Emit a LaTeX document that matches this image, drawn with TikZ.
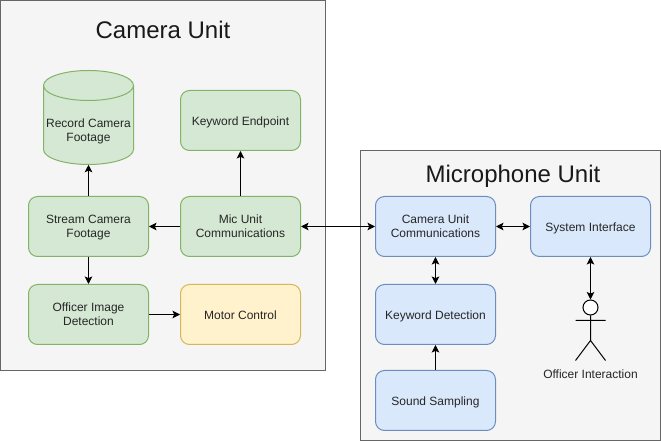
\documentclass[tikz,border=0pt]{standalone}
\usepackage{fontspec}
\setmainfont{Liberation Sans}
\usetikzlibrary{arrows.meta}
\begin{document}
\begin{tikzpicture}[x=0.75pt,y=-0.75pt,>={Stealth[length=5.6pt,width=5.6pt,inset=1.2pt]}]
  \definecolor{cam_line}{HTML}{82B366}
  \definecolor{cam_fill}{HTML}{D5E8D4}
  \definecolor{mic_line}{HTML}{6C8EBF}
  \definecolor{mic_fill}{HTML}{DAE8FC}
  \definecolor{motor_line}{HTML}{D6B656}
  \definecolor{motor_fill}{HTML}{FFF2CC}
  \tikzstyle{unit_box}   = [shape = rectangle, draw = black!60, fill = black!4, line width=0.75pt, inner sep=0pt]
  \tikzstyle{unit_name}  = [font=\fontsize{18}{21}\selectfont, text=black!90]
  \tikzstyle{box_text}   = [align=center, inner sep=0pt, font=\fontsize{9}{10.5}\selectfont, text=black!85,
                            execute at begin node={\rule{0pt}{9pt}}, execute at end node={\rule[-2.2pt]{0pt}{0pt}}]
  \tikzstyle{two_lines}  = [execute at begin node={\rule{0pt}{18pt}}]
  \tikzstyle{box}        = [shape = rectangle, box_text, rounded corners=6.75pt, line width=0.75pt, minimum width=90pt, minimum height=45pt]
  \tikzstyle{cam_node}   = [box, draw = cam_line, fill = cam_fill]
  \tikzstyle{mic_node}   = [box, draw = mic_line, fill = mic_fill]
  \tikzstyle{motor_node} = [box, draw = motor_line, fill = motor_fill]
  \tikzstyle{cyl_line}   = [draw = cam_line, fill = cam_fill, line width=0.75pt]

  \useasboundingbox (0,0) rectangle (661,441);

  \node[unit_box, minimum width=243.75pt, minimum height=277.5pt] at (163,185.5) (cam_unit) {};
  \node[unit_name] at (163,30) (cam_title) {Camera Unit};

  \node[unit_box, minimum width=225pt, minimum height=217.5pt] at (510.5,295.5) (mic_unit) {};
  \node[unit_name] at (513,176) (mic_title) {Microphone Unit};

  % cylinder outline, the text node goes on top
  \path[cyl_line] (43.5,85.5) arc[start angle=180, end angle=0, x radius=33.75pt, y radius=11.25pt]
    -- (133.5,149.5) arc[start angle=0, end angle=-180, x radius=33.75pt, y radius=11.25pt] -- cycle;
  \draw[cyl_line, fill=none] (43.5,85.5) arc[start angle=180, end angle=360, x radius=33.75pt, y radius=11.25pt];
  \node[box_text, minimum width=67.5pt, minimum height=70.5pt, execute at begin node={\rule{0pt}{38pt}}] at (88.5,117.5) (record) {Record Camera\\Footage};

  \node[cam_node] at (240.5,120.5) (endpoint) {Keyword Endpoint};
  \node[cam_node, two_lines] at (88.5,226.5) (stream) {Stream Camera\\Footage};
  \node[cam_node, two_lines] at (240.5,226.5) (mic_comm) {Mic Unit\\Communications};
  \node[cam_node, two_lines] at (88.5,314.5) (image) {Officer Image\\Detection};
  \node[motor_node] at (240.5,314.5) (motor) {Motor Control};

  \node[mic_node, two_lines] at (435.5,226.5) (cam_comm) {Camera Unit\\Communications};
  \node[mic_node] at (590.5,226.5) (sys) {System Interface};
  \node[mic_node] at (435.5,314.5) (detect) {Keyword Detection};
  \node[mic_node] at (435.5,400.5) (sound) {Sound Sampling};

  \node[shape=circle, draw=black, fill=white, line width=0.75pt, minimum size=11.25pt, inner sep=0pt] at (590.5,307.5) (head) {};
  \node[box_text] at (590.5,373.5) (actor_name) {Officer Interaction};
  \coordinate (hip) at (590.5,340.5);
  \coordinate (arm_l) at (575.5,320.5);
  \coordinate (arm_r) at (605.5,320.5);
  \coordinate (leg_l) at (575.5,360.5);
  \coordinate (leg_r) at (605.5,360.5);
  \draw[line width=0.75pt]
    (head.south) -- (hip)
    (arm_l) -- (arm_r)
    (leg_l) -- (hip) -- (leg_r)
  ;

  \draw[->, line width=0.75pt]
    (stream) edge (record)
    (mic_comm) edge (endpoint)
    (mic_comm) edge (stream)
    (stream) edge (image)
    (image) edge (motor)
    (sound) edge (detect)
  ;

  \draw[<->, line width=0.75pt]
    (mic_comm) edge (cam_comm)
    (cam_comm) edge (sys)
    (cam_comm) edge (detect)
    (sys) edge (head)
  ;
\end{tikzpicture}
\end{document}
